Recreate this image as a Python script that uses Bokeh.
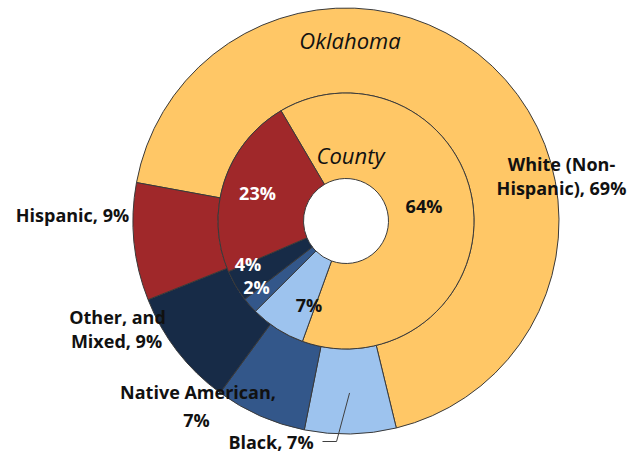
import numpy as np
from bokeh.plotting import figure
from bokeh.models import Range1d
from bokeh.embed import file_html
from bokeh.resources import INLINE
from bokeh.core.properties import value

# ---------------- data ----------------
categories = ["White (Non-Hispanic)", "Black", "Native American", "Other, and Mixed", "Hispanic"]
oklahoma = [69, 7, 7, 9, 9]      # outer ring
county = [64, 7, 2, 4, 23]       # inner ring
palette = ["#FFC766", "#9DC3EE", "#33578A", "#172B47", "#A0282A"]

outer_label_lines = [["White (Non-", "Hispanic), 69%"], ["Black, 7%"],
                     ["Native American,", "7%"], ["Other, and", "Mixed, 9%"], ["Hispanic, 9%"]]
inner_labels = ["64%", "7%", "2%", "4%", "23%"]
inner_label_colors = ["#111111", "#111111", "white", "white", "white"]

# ---------------- layout (page pixel coordinates) ----------------
W, H = 636, 452
PAGE_H = 457
CX, CY = 345.5, 220.5          # ring centre (page px)
R_HOLE, R_MID, R_OUT = 42.5, 128.0, 213.0
OUTER_START, INNER_START = 280.4, 329.5   # bearing (deg, clockwise from north)

outer_label_pos = [[(561, 163), (561, 187)], [(270.5, 441)],
                   [(197.5, 391), (196, 419)], [(117, 316), (116, 340)], [(72, 214)]]
inner_label_pos = [(423.5, 205.5), (308.5, 304.5), (256, 286.5), (247.5, 263), (257, 192.5)]

FONT = value("Open Sans")


def Y(py):
    return PAGE_H - py


def ring(vals, start_bearing):
    fr = np.cumsum([0] + list(vals)) / float(sum(vals))
    b0 = start_bearing + 360.0 * fr[:-1]
    b1 = start_bearing + 360.0 * fr[1:]
    return np.radians(90 - b1), np.radians(90 - b0), (b0 + b1) / 2.0


p = figure(width=W, height=H, x_range=Range1d(0, W), y_range=Range1d(PAGE_H - H, PAGE_H),
           output_backend="svg", toolbar_location=None, min_border=0)
p.axis.visible = False
p.grid.visible = False
p.outline_line_color = None
p.background_fill_color = "white"
p.border_fill_color = "white"

cy = Y(CY)
s_o, e_o, mid_o = ring(oklahoma, OUTER_START)
s_i, e_i, mid_i = ring(county, INNER_START)

p.annular_wedge(x=CX, y=cy, inner_radius=R_MID, outer_radius=R_OUT,
                start_angle=s_o, end_angle=e_o, fill_color=palette,
                line_color="#3A3A3A", line_width=1)
p.annular_wedge(x=CX, y=cy, inner_radius=R_HOLE, outer_radius=R_MID,
                start_angle=s_i, end_angle=e_i, fill_color=palette,
                line_color="#3A3A3A", line_width=1)

# ring titles
p.text(x=[349.5, 350], y=[Y(39), Y(154)], text=["Oklahoma", "County"],
       text_font=FONT, text_font_style="italic", text_font_size="22px",
       text_align="center", text_baseline="middle", text_color="#111111")

# inner ring labels
p.text(x=[q[0] for q in inner_label_pos], y=[Y(q[1]) for q in inner_label_pos], text=inner_labels,
       text_font=FONT, text_font_style="bold", text_font_size="18px",
       text_align="center", text_baseline="middle", text_color=inner_label_colors)

# outer ring labels
lx, ly, lt = [], [], []
for lines, poss in zip(outer_label_lines, outer_label_pos):
    for t, (x, y) in zip(lines, poss):
        lx.append(x)
        ly.append(Y(y))
        lt.append(t)
p.text(x=lx, y=ly, text=lt, text_font=FONT, text_font_style="bold",
       text_font_size="18px", text_align="center", text_baseline="middle", text_color="#111111")

# leader line for the Black label
b = np.radians(mid_o[1])
ex, ey = CX + 172 * np.sin(b), CY - 172 * np.cos(b)
bx, by = outer_label_pos[1][0]
p.line(x=[bx + 51.5, ex - 13, ex], y=[Y(by), Y(by), Y(ey)], line_color="#404040", line_width=1)

open("out.html", "w").write(file_html(p, INLINE))
